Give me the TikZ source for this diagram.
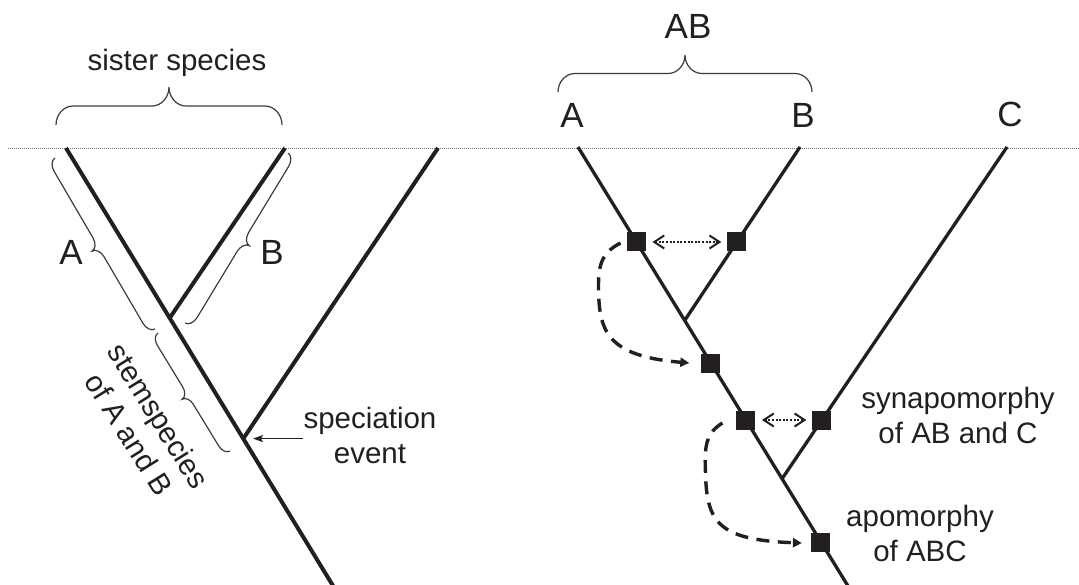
\documentclass[tikz,border=0pt]{standalone}
\usepackage{fontspec}
\setmainfont{Liberation Sans}
\usetikzlibrary{arrows.meta,decorations}

\definecolor{inkc}{RGB}{35,31,32}
\definecolor{bracec}{RGB}{60,60,60}
\definecolor{timec}{RGB}{110,110,110}

\def\bcurl{10pt}
\pgfdeclaredecoration{sbrace}{bstate}{%
  \state{bstate}[width=+\pgfdecoratedremainingdistance,next state=final]{%
    \pgfmathsetlengthmacro\bL{\pgfdecoratedremainingdistance}%
    \pgfmathsetlengthmacro\bM{0.5*\pgfdecoratedremainingdistance}%
    \pgfmathsetlengthmacro\bA{\pgfdecorationsegmentamplitude}%
    \pgfmathsetlengthmacro\bH{0.5*\pgfdecorationsegmentamplitude}%
    \pgfmathsetlengthmacro\bC{\bcurl}%
    \pgfpathmoveto{\pgfpointorigin}%
    \pgfpathcurveto{\pgfpoint{0pt}{0.55*\bH}}{\pgfpoint{0.45*\bC}{\bH}}{\pgfpoint{\bC}{\bH}}%
    \pgfpathlineto{\pgfpoint{\bM-\bC}{\bH}}%
    \pgfpathcurveto{\pgfpoint{\bM-0.45*\bC}{\bH}}{\pgfpoint{\bM}{\bH+0.45*(\bA-\bH)}}{\pgfpoint{\bM}{\bA}}%
    \pgfpathcurveto{\pgfpoint{\bM}{\bH+0.45*(\bA-\bH)}}{\pgfpoint{\bM+0.45*\bC}{\bH}}{\pgfpoint{\bM+\bC}{\bH}}%
    \pgfpathlineto{\pgfpoint{\bL-\bC}{\bH}}%
    \pgfpathcurveto{\pgfpoint{\bL-0.45*\bC}{\bH}}{\pgfpoint{\bL}{0.55*\bH}}{\pgfpoint{\bL}{0pt}}%
  }%
  \state{final}{\pgfpathmoveto{\pgfpointdecoratedpathlast}}%
}

\tikzset{
  bcurl/.code={\def\bcurl{#1}},
  treeleft/.style={draw=inkc, line width=4pt},
  treeright/.style={draw=inkc, line width=3.3pt},
  sq/.style={fill=inkc, draw=none, minimum size=19pt, inner sep=0pt, outer sep=0pt},
  bracestyle/.style={draw=bracec, line width=1.2pt, decorate, decoration={sbrace, amplitude=#1}},
  lbl/.style={text=inkc, font=\fontsize{29.5}{35}\selectfont, inner sep=0pt},
  biglbl/.style={text=inkc, font=\fontsize{35}{40}\selectfont, inner sep=0pt, anchor=base},
  dotarrow/.style={draw=inkc, line width=2.1pt, dash pattern=on 2pt off 1.6pt,
    arrows={Straight Barb[length=10pt,width=13pt,line width=2pt]-Straight Barb[length=10pt,width=13pt,line width=2pt]},
    shorten <=6.5pt, shorten >=6pt},
  dasharrow/.style={draw=inkc, line width=3.4pt, dash pattern=on 13pt off 8.5pt,
    arrows={-Triangle[length=9pt,width=9pt]}},
  thinarrow/.style={draw=inkc, line width=1.2pt, arrows={-Stealth[length=10pt,width=7pt,inset=2pt]}},
  timeline/.style={draw=timec, line width=0.8pt, dash pattern=on 1pt off 1pt},
}

\begin{document}
\begin{tikzpicture}[x=1pt,y=-1pt]
\useasboundingbox (0,0) rectangle (1079,585);

% time line
\coordinate (tl) at (8,148.5);
\coordinate (tr) at (1079,148.5);
\draw[timeline] (tl) -- (tr);

% ---------------- left tree ----------------
\coordinate (LA) at (66,148);
\coordinate (LB) at (285,148);
\coordinate (LC) at (438,148);
\coordinate (LJ) at (169.7,318);
\coordinate (LS) at (243.3,438.6);
\coordinate (LE) at (336.8,592);
\draw[treeleft] (LA) -- (LE);
\draw[treeleft] (LB) -- (LJ);
\draw[treeleft] (LC) -- (LS);

% braces left
\coordinate (bs1) at (56,125);   \coordinate (bs2) at (282,125);
\coordinate (ba1) at (155,329);  \coordinate (ba2) at (55,158);
\coordinate (bb1) at (288,153);  \coordinate (bb2) at (185,323);
\coordinate (bc1) at (230,451);  \coordinate (bc2) at (158,333);
\draw[bracestyle=38pt, bcurl=17pt] (bs1) -- (bs2);
\draw[bracestyle=15pt, bcurl=11pt] (ba1) -- (ba2);
\draw[bracestyle=15pt, bcurl=11pt] (bb1) -- (bb2);
\draw[bracestyle=14pt, bcurl=10pt] (bc1) -- (bc2);

\node[lbl, anchor=base] (sis) at (177,71) {sister species};
\node[biglbl] (lA) at (71,265) {A};
\node[biglbl] (lB) at (272,265) {B};
\node[lbl, align=center, rotate=-58] (stem) at (144,425) {stemspecies\\of A and B};
\node[lbl, align=center] (spec) at (370,435) {speciation\\event};
\draw[thinarrow] (spec.west |- LS) -- ([xshift=9.7pt]LS);

% ---------------- right tree ----------------
\coordinate (RA) at (578,147);
\coordinate (RB) at (800,147);
\coordinate (RC) at (1007,147);
\coordinate (RJ1) at (684.7,320.4);
\coordinate (RJ2) at (782,478.8);
\coordinate (RE) at (851.7,592);
\draw[treeright] (RA) -- (RE);
\draw[treeright] (RB) -- (RJ1);
\draw[treeright] (RC) -- (RJ2);

\node[sq] (s1) at (636.4,242) {};
\node[sq] (s2) at (736.8,242) {};
\node[sq] (s3) at (710.8,363) {};
\node[sq] (s4) at (745.9,420) {};
\node[sq] (s5) at (821.9,420) {};
\node[sq] (s6) at (820.9,542) {};

\draw[dotarrow] (s1) -- (s2);
\draw[dotarrow] (s4) -- (s5);

\draw[dasharrow] ([xshift=-6.4pt,yshift=-1pt]s1.west)
  .. controls +(-17,9) and +(0,-23) .. ++(-22,42)
  .. controls +(0,45) and +(-84,-7) .. ([xshift=-12pt]s3.west);
\draw[dasharrow] ([xshift=-14pt,yshift=-3pt]s4.west)
  .. controls +(-16,10) and +(-1,-25) .. ++(-17,47)
  .. controls +(1,50) and +(-87,-3) .. ([xshift=-9.5pt,yshift=-1pt]s6.west);

% braces / labels right
\coordinate (bab1) at (558,92);  \coordinate (bab2) at (812,92);
\draw[bracestyle=37pt, bcurl=17pt] (bab1) -- (bab2);
\node[biglbl] (tAB) at (688,39) {AB};
\node[biglbl] (tA) at (572,128) {A};
\node[biglbl] (tB) at (803,128) {B};
\node[biglbl] (tC) at (1010,127) {C};

\node[lbl, align=center] (syn) at (958,415) {synapomorphy\\of AB and C};
\node[lbl, align=center] (apo) at (920,533.5) {apomorphy\\of ABC};
\end{tikzpicture}
\end{document}
